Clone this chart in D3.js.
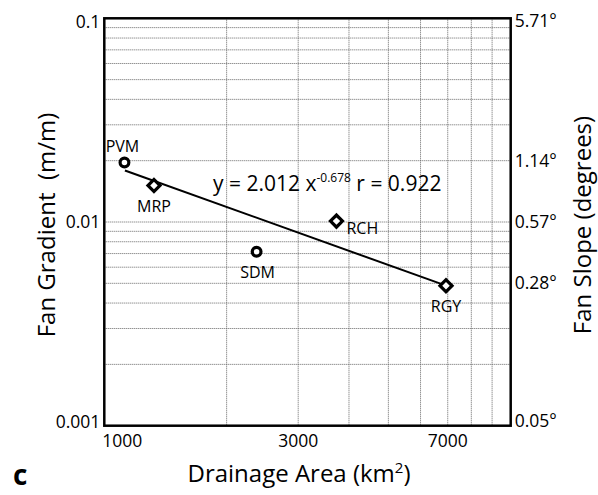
<!DOCTYPE html>
<html><head><meta charset="utf-8">
<script src="https://cdn.jsdelivr.net/npm/d3@7"></script>
<style>body{margin:0;background:#fff;} text{font-family:"Open Sans",sans-serif;fill:#000;}</style>
</head><body>
<svg id="c" width="598" height="495"></svg>
<script>
// ---- data ----
const siteNames = ["PVM", "MRP", "SDM", "RCH", "RGY"];
const drainageArea = [1121, 1325, 2370, 3726, 6931];
const fanGradient = [0.0196, 0.0151, 0.00715, 0.0101, 0.00487];
const markerShape = ["circle", "diamond", "circle", "diamond", "diamond"];
const fitLineX = [1124, 6931];
const fitLineY = [0.0179, 0.00487];
const xTickValues = [1000, 3000, 7000];
const xTickLabels = ["1000", "3000", "7000"];
const yTickValues = [0.1, 0.01, 0.001];
const yTickLabels = ["0.1", "0.01", "0.001"];
const slopeTickValues = [0.1, 0.02, 0.01, 0.005, 0.001];
const slopeTickLabels = ["5.71°", "1.14°", "0.57°", "0.28°", "0.05°"];

const svg = d3.select("#c");
const L = 104.3, R = 510.7, T = 18.3, B = 425.7;
const x = d3.scaleLog().domain([1000, 10000]).range([L, R]);
const y = d3.scaleLog().domain([0.001, 0.1]).range([B, T]);

// grid
const xGrid = d3.range(2, 10).map(d => d * 1000);
const yGrid = [];
[0.001, 0.01].forEach(base => { for (let k = 2; k <= 9; k++) yGrid.push(base * k); });
yGrid.push(0.01);
const g = svg.append("g");
g.selectAll(".xg").data(xGrid).enter().append("line")
  .attr("x1", d => x(d)).attr("x2", d => x(d)).attr("y1", T).attr("y2", B)
  .attr("stroke", "#666").attr("stroke-width", 1).attr("stroke-dasharray", "1,1");
g.selectAll(".yg").data(yGrid).enter().append("line")
  .attr("y1", d => y(d)).attr("y2", d => y(d)).attr("x1", L).attr("x2", R)
  .attr("stroke", "#666").attr("stroke-width", 1).attr("stroke-dasharray", "1,1");

// frame
svg.append("rect").attr("x", L).attr("y", T).attr("width", R - L).attr("height", B - T)
  .attr("fill", "none").attr("stroke", "#000").attr("stroke-width", 2.5);

// fit line
svg.append("path").datum(d3.zip(fitLineX, fitLineY))
  .attr("d", d3.line().x(d => x(d[0])).y(d => y(d[1])))
  .attr("stroke", "#000").attr("stroke-width", 2).attr("fill", "none");

// markers
const pts = siteNames.map((n, i) => ({ n, a: drainageArea[i], g: fanGradient[i], s: markerShape[i] }));
svg.selectAll(".pt").data(pts).enter().append("path")
  .attr("transform", d => `translate(${x(d.a)},${y(d.g)})` + (d.s === "diamond" ? " rotate(45)" : ""))
  .attr("d", d => d.s === "circle" ? d3.symbol(d3.symbolCircle, 60)() : d3.symbol(d3.symbolSquare, 72)())
  .attr("fill", "#fff").attr("stroke", "#000").attr("stroke-width", 3.2);

// point labels
const labelOff = { PVM: [-2, -10, "middle"], MRP: [0, 26, "middle"], SDM: [1, 26, "middle"], RCH: [10, 13, "start"], RGY: [0, 26, "middle"] };
svg.selectAll(".lb").data(pts).enter().append("text")
  .attr("x", d => x(d.a) + labelOff[d.n][0]).attr("y", d => y(d.g) + labelOff[d.n][1])
  .attr("text-anchor", d => labelOff[d.n][2]).attr("font-size", 16).text(d => d.n);

// equation
const eq = svg.append("text").attr("x", 213).attr("y", 191).attr("font-size", 21);
eq.append("tspan").text("y = 2.012 x");
eq.append("tspan").attr("dy", -9).attr("font-size", 12).text("-0.678");
eq.append("tspan").attr("dy", 9).text(" r = 0.922");

// left ticks
const yLabOff = [4, 0, -4];
svg.selectAll(".yl").data(yTickValues).enter().append("text")
  .attr("x", L - 4).attr("y", (d, i) => y(d) + yLabOff[i]).attr("dy", "0.35em")
  .attr("text-anchor", "end").attr("font-size", 17.5).text((d, i) => yTickLabels[i]);
// right ticks
const sLabOff = [3, 0, 0, 0, -5];
svg.selectAll(".sl").data(slopeTickValues).enter().append("text")
  .attr("x", R + 4).attr("y", (d, i) => y(d) + sLabOff[i]).attr("dy", "0.35em")
  .attr("text-anchor", "start").attr("font-size", 17.5).text((d, i) => slopeTickLabels[i]);
// bottom ticks
svg.selectAll(".xl").data(xTickValues).enter().append("text")
  .attr("x", (d, i) => i === 0 ? x(d) - 2 : x(d)).attr("y", 447)
  .attr("text-anchor", (d, i) => i === 0 ? "start" : "middle").attr("font-size", 17.5)
  .text((d, i) => xTickLabels[i]);

// axis titles
const xt = svg.append("text").attr("x", 299).attr("y", 482).attr("text-anchor", "middle").attr("font-size", 24);
xt.append("tspan").text("Drainage Area (km");
xt.append("tspan").attr("dy", -9).attr("font-size", 15).text("2");
xt.append("tspan").attr("dy", 9).text(")");
svg.append("text").attr("transform", "translate(55,225) rotate(-90)").attr("text-anchor", "middle")
  .attr("font-size", 24).style("white-space", "pre").text("Fan Gradient  (m/m)");
svg.append("text").attr("transform", "translate(591,225) rotate(-90)").attr("text-anchor", "middle")
  .attr("font-size", 24).text("Fan Slope (degrees)");
svg.append("text").attr("x", 13).attr("y", 485).attr("font-size", 28).attr("font-weight", "bold").text("c");
</script>
</body></html>
